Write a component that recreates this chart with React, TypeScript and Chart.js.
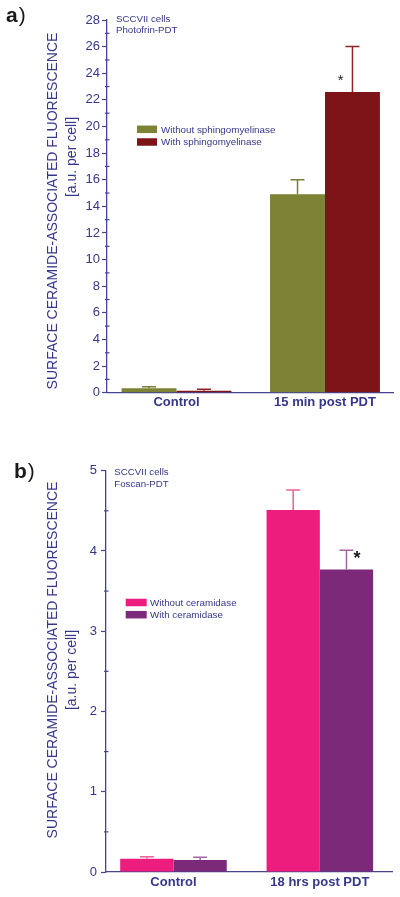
import React, { useEffect, useRef } from 'react';
import { Chart, registerables } from 'chart.js';

Chart.register(...registerables);

const FONT = "'Liberation Sans', Arial, Helvetica, sans-serif";
const NAVY = '#36368a';
const AXIS = '#45458f';

// ---------- Panel a ----------
const categoriesA = ['Control', '15 min post PDT'];
const seriesNamesA = ['Without sphingomyelinase', 'With sphingomyelinase'];
const withoutSmase = [0.33, 14.9];
const withoutSmaseErr = [0.12, 1.1];
const withSmase = [0.15, 22.6];
const withSmaseErr = [0.1, 3.4];
const yMaxA = 28;
const yMajorStepA = 2;
const yMinorStepA = 1;
const noteA = ['SCCVII cells', 'Photofrin-PDT'];

// ---------- Panel b ----------
const categoriesB = ['Control', '18 hrs post PDT'];
const seriesNamesB = ['Without ceramidase', 'With ceramidase'];
const withoutCdase = [0.165, 4.51];
const withoutCdaseErr = [0.025, 0.25];
const withCdase = [0.15, 3.77];
const withCdaseErr = [0.033, 0.24];
const yMaxB = 5;
const yMajorStepB = 1;
const yMinorStepB = 0.5;
const noteB = ['SCCVII cells', 'Foscan-PDT'];

const yTitle = 'SURFACE CERAMIDE-ASSOCIATED FLUORESCENCE';
const yUnit = '[a.u. per cell]';

type Panel = {
  letter: string;
  categories: string[];
  names: string[];
  values: number[][];
  errors: number[][];
  colors: string[];
  errColors: string[];
  yMax: number;
  majorStep: number;
  minorStep: number;
  note: string[];
  star: { ds: number; idx: number; value: number; dx: number; font: string };
  width: number;
  height: number;
  pad: { top: number; right: number };
  yWidth: number;
  xHeight: number;
  xMin: number;
  xMax: number;
  catPct: number;
  tickPad: number;
  xTickPad: number;
  letterPos: { x: number; y: number };
  titlePos: { x: number; y: number };
  unitPos: { x: number; y: number };
  notePos: { x: number; y: number; dy: number };
  legendPos: { x: number; y: number; dy: number; w: number; h: number; textX: number };
};

const panelA: Panel = {
  letter: 'a',
  categories: categoriesA,
  names: seriesNamesA,
  values: [withoutSmase, withSmase],
  errors: [withoutSmaseErr, withSmaseErr],
  colors: ['#7e8235', '#7e1418'],
  errColors: ['#7b7e36', '#902228'],
  yMax: yMaxA,
  majorStep: yMajorStepA,
  minorStep: yMinorStepA,
  note: noteA,
  star: { ds: 1, idx: 1, value: 23.64, dx: -11.8, font: `normal 15px ${FONT}` },
  width: 400,
  height: 440,
  pad: { top: 20, right: 7 },
  yWidth: 107,
  xHeight: 47.3,
  xMin: -0.468,
  xMax: 1.458,
  catPct: 0.74,
  tickPad: 2,
  xTickPad: 2,
  letterPos: { x: 6, y: 22.3 },
  titlePos: { x: 53, y: 211 },
  unitPos: { x: 72, y: 157 },
  notePos: { x: 116, y: 21.7, dy: 11.7 },
  legendPos: { x: 137, y: 129.3, dy: 12.7, w: 20, h: 7.5, textX: 161 },
};

const panelB: Panel = {
  letter: 'b',
  categories: categoriesB,
  names: seriesNamesB,
  values: [withoutCdase, withCdase],
  errors: [withoutCdaseErr, withCdaseErr],
  colors: ['#ec1d7c', '#7c2979'],
  errColors: ['#e8629c', '#a466a3'],
  yMax: yMaxB,
  majorStep: yMajorStepB,
  minorStep: yMinorStepB,
  note: noteB,
  star: { ds: 1, idx: 1, value: 3.95, dx: 10.4, font: `bold 18px ${FONT}` },
  width: 400,
  height: 457,
  pad: { top: 30.7, right: 8 },
  yWidth: 106,
  xHeight: 25,
  xMin: -0.461,
  xMax: 1.493,
  catPct: 0.728,
  tickPad: 4,
  xTickPad: 3,
  letterPos: { x: 14, y: 38.3 },
  titlePos: { x: 53.3, y: 220 },
  unitPos: { x: 71.7, y: 230 },
  notePos: { x: 114.3, y: 35, dy: 11.7 },
  legendPos: { x: 125.7, y: 162.5, dy: 12.2, w: 21, h: 7.5, textX: 150 },
};

function isMajor(v: number, step: number) {
  const r = v / step;
  return Math.abs(r - Math.round(r)) < 1e-6;
}

function makeChart(canvas: HTMLCanvasElement, p: Panel) {
  const decor = {
    id: 'decor',
    afterDatasetsDraw(chart: any) {
      const ctx = chart.ctx as CanvasRenderingContext2D;
      const ys = chart.scales.y;
      chart.data.datasets.forEach((ds: any, i: number) => {
        const meta = chart.getDatasetMeta(i);
        meta.data.forEach((bar: any, j: number) => {
          const v = ds.data[j].y;
          const e = p.errors[i][j];
          const y0 = ys.getPixelForValue(v);
          const y1 = ys.getPixelForValue(v + e);
          ctx.save();
          ctx.strokeStyle = p.errColors[i];
          ctx.lineWidth = 1.5;
          ctx.beginPath();
          ctx.moveTo(bar.x, y0);
          ctx.lineTo(bar.x, y1);
          ctx.moveTo(bar.x - 7, y1);
          ctx.lineTo(bar.x + 7, y1);
          ctx.stroke();
          ctx.restore();
        });
      });
    },
    afterDraw(chart: any) {
      const ctx = chart.ctx as CanvasRenderingContext2D;
      const ys = chart.scales.y;
      const area = chart.chartArea;
      ctx.save();
      // minor ticks
      ctx.strokeStyle = AXIS;
      ctx.lineWidth = 1.2;
      ys.ticks.forEach((t: any) => {
        if (!isMajor(t.value, p.majorStep)) {
          const py = ys.getPixelForValue(t.value);
          ctx.beginPath();
          ctx.moveTo(area.left - 2, py);
          ctx.lineTo(area.left + 2.5, py);
          ctx.stroke();
        }
      });
      // panel letter
      ctx.fillStyle = '#1a1a1a';
      ctx.textBaseline = 'alphabetic';
      ctx.textAlign = 'left';
      ctx.font = `bold 21px ${FONT}`;
      ctx.fillText(p.letter, p.letterPos.x, p.letterPos.y);
      const lw = ctx.measureText(p.letter).width;
      ctx.font = `normal 21px ${FONT}`;
      ctx.fillText(')', p.letterPos.x + lw + 1, p.letterPos.y);
      // y title
      ctx.fillStyle = NAVY;
      ctx.font = `normal 14px ${FONT}`;
      ctx.textAlign = 'center';
      ctx.textBaseline = 'middle';
      [
        [yTitle, p.titlePos],
        [yUnit, p.unitPos],
      ].forEach(([txt, pos]: any) => {
        ctx.save();
        ctx.translate(pos.x, pos.y);
        ctx.rotate(-Math.PI / 2);
        ctx.fillText(txt, 0, 0);
        ctx.restore();
      });
      // note
      ctx.font = `normal 9.7px ${FONT}`;
      ctx.textAlign = 'left';
      ctx.textBaseline = 'alphabetic';
      p.note.forEach((line, k) => {
        ctx.fillText(line, p.notePos.x, p.notePos.y + k * p.notePos.dy);
      });
      // legend
      const L = p.legendPos;
      ctx.textBaseline = 'middle';
      ctx.font = `normal 9.8px ${FONT}`;
      p.names.forEach((name, k) => {
        const cy = L.y + k * L.dy;
        ctx.fillStyle = p.colors[k];
        ctx.fillRect(L.x, cy - L.h / 2, L.w, L.h);
        ctx.fillStyle = NAVY;
        ctx.fillText(name, L.textX, cy + 0.5);
      });
      // significance star
      const bar = chart.getDatasetMeta(p.star.ds).data[p.star.idx] as any;
      if (bar) {
        ctx.font = p.star.font;
        ctx.fillStyle = '#1a1a1a';
        ctx.textAlign = 'center';
        ctx.textBaseline = 'alphabetic';
        const m = ctx.measureText('*');
        const cy = ys.getPixelForValue(p.star.value);
        const base = cy + (m.actualBoundingBoxAscent - m.actualBoundingBoxDescent) / 2;
        ctx.fillText('*', bar.x + p.star.dx, base);
      }
      ctx.restore();
    },
  };

  return new Chart(canvas, {
    type: 'bar',
    data: {
      datasets: p.names.map((name, i) => ({
        label: name,
        data: p.categories.map((_, j) => ({ x: j, y: p.values[i][j] })),
        backgroundColor: p.colors[i],
        borderWidth: 0,
        barPercentage: 1,
        categoryPercentage: p.catPct,
      })),
    },
    options: {
      responsive: false,
      animation: false,
      devicePixelRatio: 1,
      layout: { padding: { top: p.pad.top, right: p.pad.right, left: 0, bottom: 0 } },
      plugins: { legend: { display: false }, tooltip: { enabled: false } },
      events: [],
      scales: {
        x: {
          type: 'linear',
          min: p.xMin,
          max: p.xMax,
          offset: false,
          bounds: 'data',
          afterBuildTicks: (scale: any) => {
            scale.ticks = p.categories.map((_, j) => ({ value: j }));
          },
          afterFit: (scale: any) => {
            scale.height = p.xHeight;
          },
          grid: { display: false, drawTicks: false, offset: false },
          border: { display: true, color: AXIS, width: 1.3 },
          ticks: {
            autoSkip: false,
            maxRotation: 0,
            padding: p.xTickPad,
            color: NAVY,
            font: { family: FONT, size: 13, weight: 'bold' },
            callback: (v: any) => p.categories[Math.round(Number(v))] ?? '',
          },
        },
        y: {
          type: 'linear',
          min: 0,
          max: p.yMax,
          afterFit: (scale: any) => {
            scale.width = p.yWidth;
          },
          grid: {
            display: true,
            drawOnChartArea: false,
            drawTicks: true,
            tickLength: 5,
            tickWidth: 1.2,
            tickColor: (c: any) => (c.tick && isMajor(c.tick.value, p.majorStep) ? AXIS : 'rgba(0,0,0,0)'),
          },
          border: { display: true, color: AXIS, width: 1.3 },
          ticks: {
            stepSize: p.minorStep,
            autoSkip: false,
            padding: p.tickPad,
            color: NAVY,
            font: { family: FONT, size: 13 },
            callback: (v: any) => (isMajor(Number(v), p.majorStep) ? String(Math.round(Number(v))) : ''),
          },
        },
      },
    } as any,
    plugins: [decor],
  });
}

function PanelChart({ panel, top }: { panel: Panel; top: number }) {
  const ref = useRef<HTMLCanvasElement | null>(null);
  useEffect(() => {
    if (!ref.current) return;
    const chart = makeChart(ref.current, panel);
    return () => chart.destroy();
  }, [panel]);
  return (
    <div style={{ position: 'absolute', left: 0, top, width: panel.width, height: panel.height }}>
      <canvas ref={ref} width={panel.width} height={panel.height} style={{ display: 'block' }} />
    </div>
  );
}

export default function App() {
  return (
    <div style={{ position: 'absolute', left: 0, top: 0, width: 400, height: 897, background: '#ffffff', overflow: 'hidden' }}>
      <PanelChart panel={panelA} top={0} />
      <PanelChart panel={panelB} top={440} />
    </div>
  );
}
